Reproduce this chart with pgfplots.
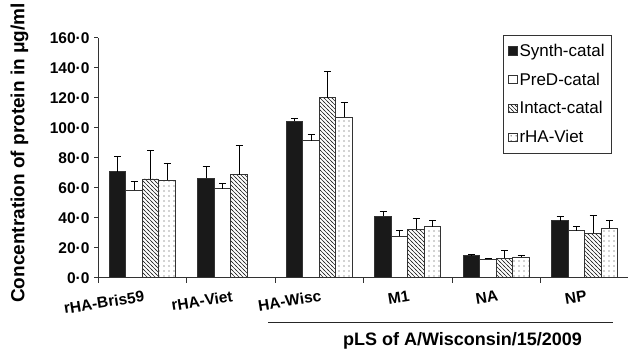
\documentclass[border=0pt]{standalone}
\usepackage{pgfplots}
\usepackage{pgfplotstable}
\pgfplotsset{compat=1.18}
\usepackage{fontspec}
\setmainfont{Liberation Sans}
\usetikzlibrary{patterns}

\pgfdeclarepatternformonly{mynwlines}{\pgfpoint{-1pt}{-1pt}}{\pgfpoint{5pt}{5pt}}{\pgfpoint{4pt}{4pt}}{%
  \pgfsetlinewidth{0.6pt}
  \pgfpathmoveto{\pgfpoint{-1pt}{5pt}}
  \pgfpathlineto{\pgfpoint{5pt}{-1pt}}
  \pgfusepath{stroke}}
\pgfdeclarepatternformonly{mydots}{\pgfpoint{0pt}{0pt}}{\pgfpoint{4.5pt}{4.5pt}}{\pgfpoint{4.5pt}{4.5pt}}{%
  \pgfpathcircle{\pgfpoint{2.25pt}{2.25pt}}{0.75pt}
  \pgfusepath{fill}}

\pgfplotstableread{
x synth synthe pred prede intact intacte viet viete
0 70.7 10.0 58.2 6.0 65.8 19.0 65.1 11.4
1 66.2 8.0 59.4 3.7 68.7 19.3 nan nan
2 104.2 2.0 91.3 4.3 120.0 17.6 106.9 10.2
3 40.9 3.1 27.6 3.7 32.3 7.0 34.0 4.0
4 14.9 0.5 12.5 0.4 13.1 4.9 13.8 0.9
5 38.0 2.9 31.3 2.7 29.6 12.0 32.9 5.1
}\data

\pgfplotsset{mylegend/.style={legend image code/.code={\draw[##1,line width=0.6pt] (0pt,-4pt) rectangle (9pt,4.5pt);}}}

\begin{document}
\begin{tikzpicture}[x=1pt,y=1pt]
\useasboundingbox (0,0) rectangle (628,350);
\begin{axis}[
  at={(98pt,72.3pt)}, anchor=south west,
  scale only axis, width=531pt, height=240pt,
  ybar=0pt, bar width=16.5pt,
  xmin=-0.5, xmax=5.5, ymin=0, ymax=160,
  axis x line*=bottom, axis y line*=left,
  axis line style={line width=0.8pt, black!80},
  tick align=outside,
  xtick={0,...,5},
  xticklabels={rHA-Bris59,rHA-Viet,HA-Wisc,M1,NA,NP},
  minor xtick={-0.5,0.5,...,5.5},
  major x tick style={draw=none},
  minor tick length=5pt,
  major tick length=4pt,
  tick style={line width=0.8pt, black!80},
  xticklabel style={font=\fontsize{15.5}{15.5}\selectfont\bfseries, rotate=9, anchor=north east, xshift=3pt, yshift=-5pt},
  ytick={0,20,...,160},
  yticklabels={0·0,20·0,40·0,60·0,80·0,100·0,120·0,140·0,160·0},
  yticklabel style={font=\fontsize{15.5}{15.5}\selectfont\bfseries, xshift=-1pt},
  ylabel={Concentration of protein in μg/ml},
  ylabel style={font=\fontsize{19}{19}\selectfont\bfseries, at={(axis description cs:-0.148,0.52)}, anchor=center},
  legend style={at={(axis description cs:0.762,1.0125)}, anchor=north west,
    draw=black!80, line width=0.6pt, font=\fontsize{17}{17}\selectfont,
    row sep=11pt, inner xsep=5pt, inner ysep=7pt},
  legend cell align=left,
  error bars/y dir=plus, error bars/y explicit,
  error bars/error mark=-,
  error bars/error bar style={black, line width=0.8pt},
  error bars/error mark options={rotate=90, black, mark size=3.5pt, line width=0.8pt},
]
\addplot[draw=black!80, line width=0.6pt, fill=black!90, mylegend] table[x=x, y=synth, y error=synthe]{\data};
\addplot[draw=black!80, line width=0.6pt, fill=white, mylegend] table[x=x, y=pred, y error=prede]{\data};
\addplot[draw=black!80, line width=0.6pt, fill=white, pattern=mynwlines, pattern color=black!85, mylegend] table[x=x, y=intact, y error=intacte]{\data};
\addplot[draw=black!80, line width=0.6pt, fill=white, pattern=mydots, pattern color=black!75, mylegend] table[x=x, y=viet, y error=viete]{\data};
\legend{Synth-catal,PreD-catal,Intact-catal,rHA-Viet}
\end{axis}
\draw[line width=0.8pt, black!85] (268,27.7) -- (613,27.7);
\node[font=\fontsize{18}{18}\selectfont\bfseries, anchor=base] at (462.5,4.5) {pLS of A/Wisconsin/15/2009};
\end{tikzpicture}
\end{document}
